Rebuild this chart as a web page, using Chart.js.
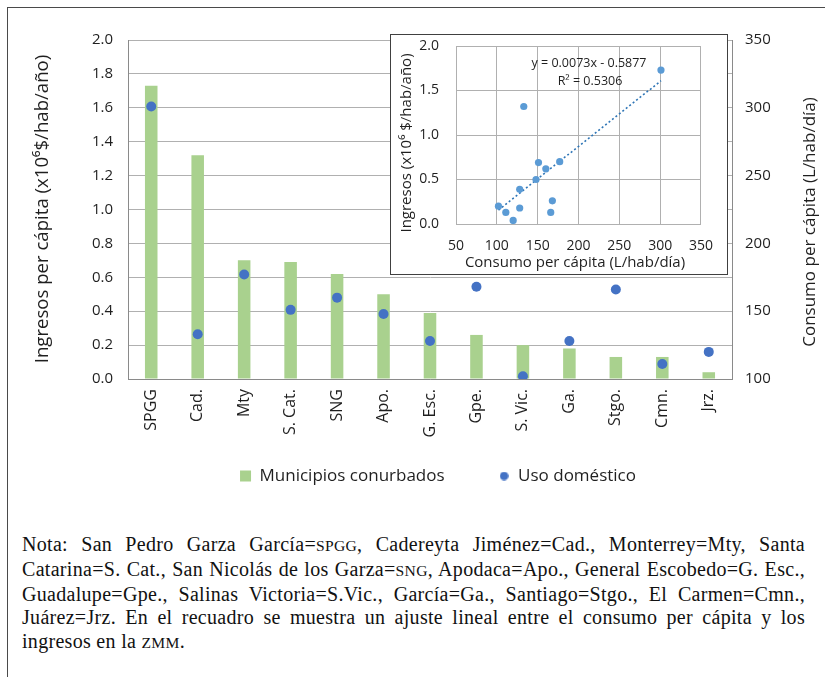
<!DOCTYPE html>
<html>
<head>
<meta charset="utf-8">
<script src="https://cdn.jsdelivr.net/npm/chart.js@4.4.1/dist/chart.umd.min.js"></script>
<style>
  html, body { margin: 0; padding: 0; background: #fff; }
  #page { position: relative; width: 825px; height: 677px; overflow: hidden; background: #fff; }
  #frame { position: absolute; left: 7px; top: 7px; right: -10px; bottom: -10px;
           border-left: 1.5px solid #4a4a4a; border-top: 1.5px solid #4a4a4a; }
  #main { position: absolute; left: 0; top: 0; }
  #insetBox { position: absolute; left: 390px; top: 34px; width: 338px; height: 241px;
              box-sizing: border-box; border: 1px solid #404040; background: #fff; }
  #inset { position: absolute; left: 0; top: 0; }
  #note { position: absolute; left: 22px; top: 533px; width: 783px;
          font-family: "Liberation Serif", "DejaVu Serif", serif; font-size: 20px;
          letter-spacing: 0.3px; line-height: 23.8px; color: #111; }
  #note .l { text-align: justify; text-align-last: justify; white-space: nowrap; }
  #note .last { text-align: left; white-space: nowrap; }
  #note .sc { font-size: 0.78em; }
</style>
</head>
<body>
<div id="page">
  <div id="frame"></div>
  <canvas id="main" width="825" height="532"></canvas>
  <div id="insetBox"><canvas id="inset" width="336" height="239"></canvas></div>
  <div id="note">
    <div class="l">Nota: San Pedro Garza García=<span class="sc">SPGG</span>, Cadereyta Jiménez=Cad., Monterrey=Mty, Santa</div>
    <div class="l">Catarina=S. Cat., San Nicolás de los Garza=<span class="sc">SNG</span>, Apodaca=Apo., General Escobedo=G. Esc.,</div>
    <div class="l">Guadalupe=Gpe., Salinas Victoria=S.Vic., García=Ga., Santiago=Stgo., El Carmen=Cmn.,</div>
    <div class="l">Juárez=Jrz. En el recuadro se muestra un ajuste lineal entre el consumo per cápita y los</div>
    <div class="last">ingresos en la <span class="sc">ZMM</span>.</div>
  </div>
</div>
<script>
// Municipalities of the metropolitan area (abbreviations used on the category axis)
const municipios = ['SPGG', 'Cad.', 'Mty', 'S. Cat.', 'SNG', 'Apo.', 'G. Esc.', 'Gpe.', 'S. Vic.', 'Ga.', 'Stgo.', 'Cmn.', 'Jrz.'];
// Per-capita income (x10^6 $/hab/año) -> green bars, left axis
const ingresos = [1.73, 1.32, 0.70, 0.69, 0.62, 0.50, 0.39, 0.26, 0.20, 0.18, 0.13, 0.13, 0.04];
// Domestic per-capita consumption (L/hab/día) -> blue dots, right axis
const consumo = [301, 133, 177, 151, 160, 148, 128, 168, 102, 128, 166, 111, 120];

// Axis ranges
const ingresosEje = { min: 0, max: 2, paso: 0.2 };
const consumoEje = { min: 100, max: 350, paso: 50 };
const recuadroX = { min: 50, max: 350, paso: 50 };
const recuadroY = { min: 0, max: 2, paso: 0.5 };

// Linear fit shown in the inset
const ajuste = { pendiente: 0.0073, ordenada: -0.5877, r2: 0.5306 };

const FONT = "'Open Sans', sans-serif";
const TEXT = '#1f1f1f';
const GRID = '#b0b0b0';
const AXIS = '#8a8a8a';

Chart.defaults.font.family = FONT;
Chart.defaults.color = TEXT;

// Free-standing captions (axis titles, fit equation)
const captions = {
  id: 'captions',
  afterDraw(chart, args, opts) {
    const ctx = chart.ctx;
    (opts.items || []).forEach(it => {
      ctx.save();
      ctx.font = `${it.size}px ${FONT}`;
      ctx.fillStyle = TEXT;
      ctx.textAlign = 'center';
      ctx.textBaseline = 'middle';
      ctx.translate(it.x, it.y);
      ctx.rotate(it.rot || 0);
      ctx.fillText(it.text, 0, 0);
      ctx.restore();
    });
  }
};
Chart.register(captions);

// Moves the legend block after layout so it sits under the category labels
const legendShift = {
  id: 'legendShift',
  afterLayout(chart, args, opts) {
    const lg = chart.legend;
    if (!lg) return;
    lg.left += opts.dx; lg.right += opts.dx;
    lg.top += opts.dy; lg.bottom += opts.dy;
  }
};

// Small round marker for the legend entry of the dots
const legendDot = document.createElement('canvas');
legendDot.width = 9; legendDot.height = 9;
(() => {
  const c = legendDot.getContext('2d');
  c.fillStyle = '#4472C4';
  c.beginPath(); c.arc(4.5, 4.5, 4.3, 0, Math.PI * 2); c.fill();
})();

new Chart(document.getElementById('main'), {
  data: {
    labels: municipios,
    datasets: [
      {
        type: 'bar', label: 'Municipios conurbados', data: ingresos, yAxisID: 'y',
        backgroundColor: '#A9D18E', borderWidth: 0,
        barPercentage: 0.27, categoryPercentage: 1, order: 2
      },
      {
        type: 'line', label: 'Uso doméstico', data: consumo, yAxisID: 'y1',
        showLine: false, pointRadius: 5, pointHoverRadius: 5,
        pointBackgroundColor: '#4472C4', pointBorderColor: '#4472C4', pointBorderWidth: 0,
        backgroundColor: '#4472C4', borderColor: '#4472C4', order: 1
      }
    ]
  },
  plugins: [legendShift],
  options: {
    responsive: false,
    animation: false,
    events: [],
    layout: { padding: { top: 40, left: 0, right: 0, bottom: 2 } },
    plugins: {
      tooltip: { enabled: false },
      legendShift: { dx: 8, dy: -35.5 },
      legend: {
        position: 'bottom',
        fullSize: false,
        labels: {
          usePointStyle: true,
          boxWidth: 11,
          boxHeight: 11,
          padding: 54,
          color: TEXT,
          font: { size: 17 },
          sort: (a, b) => a.datasetIndex - b.datasetIndex,
          generateLabels(chart) {
            const items = Chart.defaults.plugins.legend.labels.generateLabels(chart);
            items.forEach(it => { it.pointStyle = it.datasetIndex === 1 ? legendDot : 'rect'; it.lineWidth = 0; });
            return items;
          }
        }
      },
      captions: {
        items: [
          { text: 'Ingresos per cápita (x10⁶$/hab/año)', x: 43, y: 209, rot: -Math.PI / 2, size: 18.6 },
          { text: 'Consumo per cápita (L/hab/día)', x: 810, y: 222, rot: -Math.PI / 2, size: 17 }
        ]
      }
    },
    scales: {
      x: {
        grid: { display: false, drawTicks: false },
        border: { color: AXIS, width: 1 },
        ticks: { minRotation: 90, maxRotation: 90, autoSkip: false, padding: 10, font: { size: 16 }, color: TEXT },
        afterFit(s) { s.height = 70; }
      },
      y: {
        position: 'left',
        min: ingresosEje.min, max: ingresosEje.max,
        ticks: { stepSize: ingresosEje.paso, padding: 15, font: { size: 15 }, color: TEXT, callback: v => v.toFixed(1) },
        grid: { color: GRID, drawTicks: false },
        border: { color: AXIS },
        afterFit(s) { s.width = 128; }
      },
      y1: {
        position: 'right',
        min: consumoEje.min, max: consumoEje.max,
        ticks: { stepSize: consumoEje.paso, padding: 13, font: { size: 15 }, color: TEXT },
        grid: { drawOnChartArea: false, drawTicks: false },
        border: { color: AXIS },
        afterFit(s) { s.width = 93; }
      }
    }
  }
});

// Inset: income versus consumption with the fitted line
const puntos = consumo.map((c, i) => ({ x: c, y: ingresos[i] }));
const cMin = Math.min(...consumo), cMax = Math.max(...consumo);
const recta = [cMin, cMax].map(c => ({ x: c, y: ajuste.pendiente * c + ajuste.ordenada }));
const ecuacion = `y = ${ajuste.pendiente.toFixed(4)}x - ${Math.abs(ajuste.ordenada).toFixed(4)}`;
const r2Texto = `R² = ${ajuste.r2.toFixed(4)}`;

new Chart(document.getElementById('inset'), {
  type: 'scatter',
  data: {
    datasets: [
      { label: 'Municipios', data: puntos, pointRadius: 3.6, pointHoverRadius: 3.6,
        backgroundColor: '#5B9BD5', borderColor: '#5B9BD5', borderWidth: 0, order: 1 },
      { type: 'line', label: 'Lineal', data: recta, borderColor: '#2E75B6', borderWidth: 1.6,
        borderDash: [2, 2.4], pointRadius: 0, fill: false, order: 2 }
    ]
  },
  options: {
    responsive: false,
    animation: false,
    events: [],
    layout: { padding: { top: 11, right: 19, left: 0, bottom: 0 } },
    plugins: {
      legend: { display: false },
      tooltip: { enabled: false },
      captions: {
        items: [
          { text: 'Ingresos (x10⁶ $/hab/año)', x: 16, y: 108, rot: -Math.PI / 2, size: 15 },
          { text: 'Consumo per cápita (L/hab/día)', x: 184, y: 228, size: 15 },
          { text: ecuacion, x: 198, y: 28, size: 12.5 },
          { text: r2Texto, x: 199, y: 46, size: 12.5 }
        ]
      }
    },
    scales: {
      x: {
        type: 'linear', min: recuadroX.min, max: recuadroX.max,
        ticks: { stepSize: recuadroX.paso, padding: 14, font: { size: 14 }, color: TEXT },
        grid: { color: GRID, drawTicks: false },
        border: { color: GRID },
        afterFit(s) { s.height = 50; }
      },
      y: {
        min: recuadroY.min, max: recuadroY.max,
        ticks: { stepSize: recuadroY.paso, padding: 2, font: { size: 14 }, color: TEXT, callback: v => v.toFixed(1) },
        grid: { color: GRID, drawTicks: true, tickLength: 15, tickColor: 'rgba(0,0,0,0)' },
        border: { color: GRID },
        afterFit(s) { s.width = 65; }
      }
    }
  }
});
</script>
</body>
</html>
